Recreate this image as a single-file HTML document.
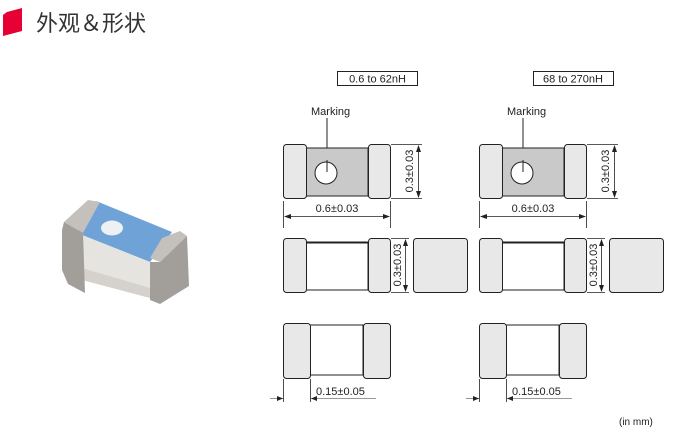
<!DOCTYPE html>
<html><head><meta charset="utf-8"><style>
html,body{margin:0;padding:0;background:#fff;width:676px;height:439px;overflow:hidden}
svg{display:block}
svg text{font-family:"Liberation Sans","Noto Sans CJK SC",sans-serif}
</style></head><body>
<svg width="676" height="439" viewBox="0 0 676 439" xmlns="http://www.w3.org/2000/svg">
<g fill="none" stroke="#222" stroke-width="1">
<rect x="337.5" y="71.5" width="80" height="14" fill="#fff"/>
<line x1="327" y1="118" x2="327" y2="172"/>
<rect x="306" y="148" width="62" height="48" fill="#c9c9c9"/>
<rect x="283.5" y="144.5" width="23" height="54" rx="3" fill="#e8e8e8"/>
<rect x="368.5" y="144.5" width="22" height="54" rx="3" fill="#e8e8e8"/>
<circle cx="326" cy="173" r="11" fill="#fff"/>
<line x1="327" y1="160" x2="327" y2="172"/>
<line x1="391" y1="144.5" x2="422" y2="144.5" stroke-width=".8"/>
<line x1="391" y1="198.5" x2="422" y2="198.5" stroke-width=".8"/>
<line x1="418.5" y1="146" x2="418.5" y2="197" stroke-width=".8"/>
<polygon points="418.5,145 416,152 421,152" fill="#222" stroke="none"/>
<polygon points="418.5,198 416,191 421,191" fill="#222" stroke="none"/>
<line x1="283.5" y1="201" x2="283.5" y2="228" stroke-width=".8"/>
<line x1="390.5" y1="201" x2="390.5" y2="228" stroke-width=".8"/>
<line x1="285" y1="216.5" x2="389" y2="216.5" stroke-width=".8"/>
<polygon points="284,216.5 291,214 291,219" fill="#222" stroke="none"/>
<polygon points="390,216.5 383,214 383,219" fill="#222" stroke="none"/>
<rect x="306" y="243" width="62" height="47" fill="#fff"/>
<line x1="306" y1="242.5" x2="368" y2="242.5" stroke-width="2"/>
<rect x="283.5" y="238.5" width="23" height="54" rx="3" fill="#e8e8e8"/>
<rect x="368.5" y="238.5" width="22" height="54" rx="3" fill="#e8e8e8"/>
<line x1="405.5" y1="240" x2="405.5" y2="291" stroke-width=".8"/>
<polygon points="405.5,239 403,246 408,246" fill="#222" stroke="none"/>
<polygon points="405.5,292 403,285 408,285" fill="#222" stroke="none"/>
<line x1="391" y1="238.5" x2="409" y2="238.5" stroke-width=".8"/>
<line x1="391" y1="292.5" x2="409" y2="292.5" stroke-width=".8"/>
<rect x="413.5" y="238.5" width="54" height="54" rx="3" fill="#e8e8e8"/>
<rect x="310" y="325" width="53" height="50" fill="#fff"/>
<rect x="283.5" y="323.5" width="27" height="55" rx="3" fill="#e8e8e8"/>
<rect x="363.5" y="323.5" width="27" height="55" rx="3" fill="#e8e8e8"/>
<line x1="283.5" y1="379" x2="283.5" y2="402" stroke-width=".8"/>
<line x1="310.5" y1="379" x2="310.5" y2="402" stroke-width=".8"/>
<line x1="270" y1="398.5" x2="283" y2="398.5" stroke="#777" stroke-width=".8"/>
<line x1="311" y1="398.5" x2="376" y2="398.5" stroke="#777" stroke-width=".8"/>
<polygon points="283,398.5 277,396 277,401" fill="#222" stroke="none"/>
<polygon points="311,398.5 317,396 317,401" fill="#222" stroke="none"/>
</g>
<g transform="translate(196,0)" fill="none" stroke="#222" stroke-width="1">
<rect x="337.5" y="71.5" width="80" height="14" fill="#fff"/>
<line x1="327" y1="118" x2="327" y2="172"/>
<rect x="306" y="148" width="62" height="48" fill="#c9c9c9"/>
<rect x="283.5" y="144.5" width="23" height="54" rx="3" fill="#e8e8e8"/>
<rect x="368.5" y="144.5" width="22" height="54" rx="3" fill="#e8e8e8"/>
<circle cx="326" cy="173" r="11" fill="#fff"/>
<line x1="327" y1="160" x2="327" y2="172"/>
<line x1="391" y1="144.5" x2="422" y2="144.5" stroke-width=".8"/>
<line x1="391" y1="198.5" x2="422" y2="198.5" stroke-width=".8"/>
<line x1="418.5" y1="146" x2="418.5" y2="197" stroke-width=".8"/>
<polygon points="418.5,145 416,152 421,152" fill="#222" stroke="none"/>
<polygon points="418.5,198 416,191 421,191" fill="#222" stroke="none"/>
<line x1="283.5" y1="201" x2="283.5" y2="228" stroke-width=".8"/>
<line x1="390.5" y1="201" x2="390.5" y2="228" stroke-width=".8"/>
<line x1="285" y1="216.5" x2="389" y2="216.5" stroke-width=".8"/>
<polygon points="284,216.5 291,214 291,219" fill="#222" stroke="none"/>
<polygon points="390,216.5 383,214 383,219" fill="#222" stroke="none"/>
<rect x="306" y="243" width="62" height="47" fill="#fff"/>
<line x1="306" y1="242.5" x2="368" y2="242.5" stroke-width="2"/>
<rect x="283.5" y="238.5" width="23" height="54" rx="3" fill="#e8e8e8"/>
<rect x="368.5" y="238.5" width="22" height="54" rx="3" fill="#e8e8e8"/>
<line x1="405.5" y1="240" x2="405.5" y2="291" stroke-width=".8"/>
<polygon points="405.5,239 403,246 408,246" fill="#222" stroke="none"/>
<polygon points="405.5,292 403,285 408,285" fill="#222" stroke="none"/>
<line x1="391" y1="238.5" x2="409" y2="238.5" stroke-width=".8"/>
<line x1="391" y1="292.5" x2="409" y2="292.5" stroke-width=".8"/>
<rect x="413.5" y="238.5" width="54" height="54" rx="3" fill="#e8e8e8"/>
<rect x="310" y="325" width="53" height="50" fill="#fff"/>
<rect x="283.5" y="323.5" width="27" height="55" rx="3" fill="#e8e8e8"/>
<rect x="363.5" y="323.5" width="27" height="55" rx="3" fill="#e8e8e8"/>
<line x1="283.5" y1="379" x2="283.5" y2="402" stroke-width=".8"/>
<line x1="310.5" y1="379" x2="310.5" y2="402" stroke-width=".8"/>
<line x1="270" y1="398.5" x2="283" y2="398.5" stroke="#777" stroke-width=".8"/>
<line x1="311" y1="398.5" x2="376" y2="398.5" stroke="#777" stroke-width=".8"/>
<polygon points="283,398.5 277,396 277,401" fill="#222" stroke="none"/>
<polygon points="311,398.5 317,396 317,401" fill="#222" stroke="none"/>
</g>
<g font-size="11" fill="#222">
<text x="377.5" y="82.5" text-anchor="middle">0.6 to 62nH</text>
<text x="573" y="82.5" text-anchor="middle">68 to 270nH</text>
<text x="311" y="115">Marking</text><text x="507" y="115">Marking</text>
<text x="337" y="212" text-anchor="middle">0.6±0.03</text><text x="533" y="212" text-anchor="middle">0.6±0.03</text>
<text x="316" y="395">0.15±0.05</text><text x="512" y="395">0.15±0.05</text>
<text transform="translate(413,171) rotate(-90)" text-anchor="middle">0.3±0.03</text>
<text transform="translate(609,171) rotate(-90)" text-anchor="middle">0.3±0.03</text>
<text transform="translate(401,265) rotate(-90)" text-anchor="middle">0.3±0.03</text>
<text transform="translate(597,265) rotate(-90)" text-anchor="middle">0.3±0.03</text>
<text x="619" y="425" font-size="10">(in mm)</text>
</g>
<path d="M7,12 L22,8 L22,31 L3,36 L3,15z" fill="#e60033"/>
<text x="36" y="31" font-size="22" fill="#333">外观＆形状</text>
<!-- chip photo -->
<polygon points="96,201 172,232 150,262 77,233" fill="#6fa3d8"/>
<polygon points="77,233 150,262 150,298 82,280" fill="#e6e4e0"/>
<polygon points="82,268 150,288 150,298 82,280" fill="#d5d2cd"/>
<ellipse cx="112" cy="228" rx="11" ry="7.5" fill="#eef1f4"/>
<polygon points="64,222 88,200 100,202 83,233" fill="#c4c0bc"/>
<polygon points="62,230 64,222 83,233 85,293 68,284 62,270" fill="#a29e9a"/>
<polygon points="150,258 162,238 180,231 187,236 160,262" fill="#c4c0bc"/>
<polygon points="150,262 160,262 187,236 189,286 160,304 150,300" fill="#a29e9a"/>
</svg>
</body></html>
